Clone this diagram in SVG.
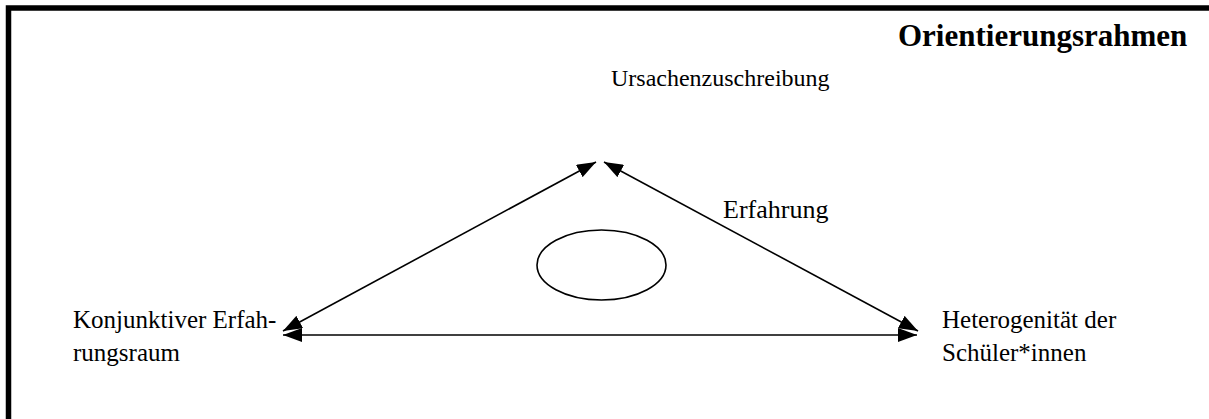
<svg xmlns="http://www.w3.org/2000/svg" width="1209" height="419" viewBox="0 0 1209 419">
<style>
.t{font-family:"Liberation Serif","Times New Roman",serif;font-size:25px;fill:#000}
.b{font-family:"Liberation Serif","Times New Roman",serif;font-size:31px;font-weight:bold;fill:#000}
.c{stroke:#000;stroke-width:1.6;fill:none}
</style>
<defs>
<marker id="ah" viewBox="0 0 19 14" refX="19" refY="7" markerWidth="19" markerHeight="14" markerUnits="userSpaceOnUse" orient="auto-start-reverse">
<path d="M0,0 L19,7 L0,14 z" fill="#000"/>
</marker>
</defs>
<rect width="1209" height="419" fill="#fff"/>
<g id="frame"><rect x="8.5" y="8" width="1300" height="500" fill="none" stroke="#000" stroke-width="5.5"/></g>
<g id="title"><text class="b" x="898" y="46">Orientierungsrahmen</text></g>
<g id="ursache"><text class="t" x="611" y="86" style="font-size:24px">Ursachenzuschreibung</text></g>
<g id="erfahrung"><text class="t" x="723" y="218" style="font-size:26px">Erfahrung</text></g>
<g id="konjunktiv"><text class="t" x="73" y="328">Konjunktiver Erfah-</text><text class="t" x="73" y="361">rungsraum</text></g>
<g id="heterogen"><text class="t" x="942" y="328">Heterogenität der</text><text class="t" x="942" y="361">Schüler*innen</text></g>
<g id="center"><ellipse cx="601.5" cy="265" rx="64.5" ry="35" class="c"/></g>
<g id="connectors">
<line x1="283" y1="331" x2="596" y2="162" class="c" marker-start="url(#ah)" marker-end="url(#ah)"/>
<line x1="604" y1="162" x2="918" y2="331" class="c" marker-start="url(#ah)" marker-end="url(#ah)"/>
<line x1="283" y1="335" x2="917" y2="335" class="c" marker-start="url(#ah)" marker-end="url(#ah)"/>
</g>
</svg>
